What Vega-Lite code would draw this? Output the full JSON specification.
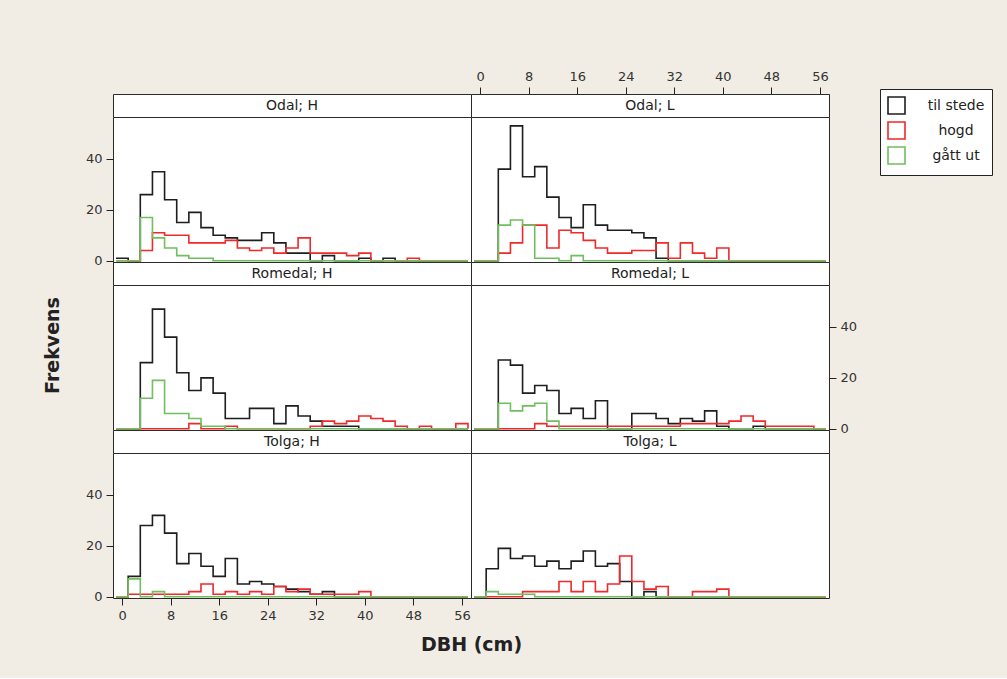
{
  "$schema": "https://vega.github.io/schema/vega-lite/v6.json",
  "padding": {"left": 42, "top": 69, "right": 15, "bottom": 23},
  "background": "#f1ede4",
  "config": {
    "font": "DejaVu Sans",
    "view": {"stroke": "#2b2b2b", "strokeWidth": 1, "fill": "white"},
    "axis": {"labelFont": "DejaVu Sans", "labelFontSize": 13, "labelColor": "#333333", "tickColor": "#222222", "tickSize": 7, "tickWidth": 1, "labelPadding": 4, "domain": false, "grid": false, "labelFlush": false, "titleFont": "DejaVu Sans", "titleFontSize": 19, "titleFontWeight": "bold", "titleColor": "#222222"},
    "legend": {"orient": "none", "legendX": 767, "legendY": -5, "symbolType": "square", "symbolSize": 289, "symbolStrokeWidth": 1.6, "symbolFillColor": "transparent", "labelFont": "DejaVu Sans", "labelFontSize": 14, "labelColor": "#222222", "labelAlign": "center", "labelOffset": 50, "rowPadding": 0, "padding": 7, "fillColor": "white", "strokeColor": "#222222", "labelLimit": 200},
    "line": {"interpolate": "step-after", "strokeWidth": 1.6, "strokeJoin": "miter", "strokeCap": "butt"}
  },
  "datasets": {
    "odalH": [
      {"dbh": -1, "til stede": 1, "hogd": 0, "gått ut": 0},
      {"dbh": 1, "til stede": 0, "hogd": 0, "gått ut": 0},
      {"dbh": 3, "til stede": 26, "hogd": 4, "gått ut": 17},
      {"dbh": 5, "til stede": 35, "hogd": 11, "gått ut": 9},
      {"dbh": 7, "til stede": 24, "hogd": 10, "gått ut": 5},
      {"dbh": 9, "til stede": 15, "hogd": 10, "gått ut": 2},
      {"dbh": 11, "til stede": 19, "hogd": 7, "gått ut": 1},
      {"dbh": 13, "til stede": 13, "hogd": 7, "gått ut": 1},
      {"dbh": 15, "til stede": 10, "hogd": 7, "gått ut": 0},
      {"dbh": 17, "til stede": 9, "hogd": 8, "gått ut": 0},
      {"dbh": 19, "til stede": 8, "hogd": 5, "gått ut": 0},
      {"dbh": 21, "til stede": 8, "hogd": 4, "gått ut": 0},
      {"dbh": 23, "til stede": 11, "hogd": 5, "gått ut": 0},
      {"dbh": 25, "til stede": 7, "hogd": 3, "gått ut": 0},
      {"dbh": 27, "til stede": 3, "hogd": 5, "gått ut": 0},
      {"dbh": 29, "til stede": 3, "hogd": 9, "gått ut": 0},
      {"dbh": 31, "til stede": 0, "hogd": 3, "gått ut": 0},
      {"dbh": 33, "til stede": 2, "hogd": 3, "gått ut": 0},
      {"dbh": 35, "til stede": 0, "hogd": 3, "gått ut": 0},
      {"dbh": 37, "til stede": 0, "hogd": 2, "gått ut": 0},
      {"dbh": 39, "til stede": 1, "hogd": 3, "gått ut": 0},
      {"dbh": 41, "til stede": 0, "hogd": 0, "gått ut": 0},
      {"dbh": 43, "til stede": 1, "hogd": 0, "gått ut": 0},
      {"dbh": 45, "til stede": 0, "hogd": 0, "gått ut": 0},
      {"dbh": 47, "til stede": 0, "hogd": 1, "gått ut": 0},
      {"dbh": 49, "til stede": 0, "hogd": 0, "gått ut": 0},
      {"dbh": 51, "til stede": 0, "hogd": 0, "gått ut": 0},
      {"dbh": 53, "til stede": 0, "hogd": 0, "gått ut": 0},
      {"dbh": 55, "til stede": 0, "hogd": 0, "gått ut": 0},
      {"dbh": 57, "til stede": 0, "hogd": 0, "gått ut": 0}
    ],
    "odalL": [
      {"dbh": -1, "til stede": 0, "hogd": 0, "gått ut": 0},
      {"dbh": 1, "til stede": 0, "hogd": 0, "gått ut": 0},
      {"dbh": 3, "til stede": 36, "hogd": 3, "gått ut": 14},
      {"dbh": 5, "til stede": 53, "hogd": 7, "gått ut": 16},
      {"dbh": 7, "til stede": 33, "hogd": 14, "gått ut": 14},
      {"dbh": 9, "til stede": 37, "hogd": 14, "gått ut": 1},
      {"dbh": 11, "til stede": 25, "hogd": 5, "gått ut": 1},
      {"dbh": 13, "til stede": 17, "hogd": 12, "gått ut": 0},
      {"dbh": 15, "til stede": 13, "hogd": 11, "gått ut": 2},
      {"dbh": 17, "til stede": 22, "hogd": 8, "gått ut": 0},
      {"dbh": 19, "til stede": 14, "hogd": 5, "gått ut": 0},
      {"dbh": 21, "til stede": 12, "hogd": 3, "gått ut": 0},
      {"dbh": 23, "til stede": 12, "hogd": 3, "gått ut": 0},
      {"dbh": 25, "til stede": 11, "hogd": 4, "gått ut": 0},
      {"dbh": 27, "til stede": 9, "hogd": 4, "gått ut": 0},
      {"dbh": 29, "til stede": 1, "hogd": 7, "gått ut": 0},
      {"dbh": 31, "til stede": 0, "hogd": 1, "gått ut": 0},
      {"dbh": 33, "til stede": 0, "hogd": 7, "gått ut": 0},
      {"dbh": 35, "til stede": 0, "hogd": 3, "gått ut": 0},
      {"dbh": 37, "til stede": 0, "hogd": 1, "gått ut": 0},
      {"dbh": 39, "til stede": 0, "hogd": 5, "gått ut": 0},
      {"dbh": 41, "til stede": 0, "hogd": 0, "gått ut": 0},
      {"dbh": 43, "til stede": 0, "hogd": 0, "gått ut": 0},
      {"dbh": 45, "til stede": 0, "hogd": 0, "gått ut": 0},
      {"dbh": 47, "til stede": 0, "hogd": 0, "gått ut": 0},
      {"dbh": 49, "til stede": 0, "hogd": 0, "gått ut": 0},
      {"dbh": 51, "til stede": 0, "hogd": 0, "gått ut": 0},
      {"dbh": 53, "til stede": 0, "hogd": 0, "gått ut": 0},
      {"dbh": 55, "til stede": 0, "hogd": 0, "gått ut": 0},
      {"dbh": 57, "til stede": 0, "hogd": 0, "gått ut": 0}
    ],
    "romedalH": [
      {"dbh": -1, "til stede": 0, "hogd": 0, "gått ut": 0},
      {"dbh": 1, "til stede": 0, "hogd": 0, "gått ut": 0},
      {"dbh": 3, "til stede": 26, "hogd": 0, "gått ut": 12},
      {"dbh": 5, "til stede": 47, "hogd": 0, "gått ut": 19},
      {"dbh": 7, "til stede": 36, "hogd": 0, "gått ut": 6},
      {"dbh": 9, "til stede": 22, "hogd": 0, "gått ut": 6},
      {"dbh": 11, "til stede": 15, "hogd": 2, "gått ut": 4},
      {"dbh": 13, "til stede": 20, "hogd": 0, "gått ut": 1},
      {"dbh": 15, "til stede": 14, "hogd": 0, "gått ut": 1},
      {"dbh": 17, "til stede": 4, "hogd": 1, "gått ut": 0},
      {"dbh": 19, "til stede": 4, "hogd": 0, "gått ut": 0},
      {"dbh": 21, "til stede": 8, "hogd": 0, "gått ut": 0},
      {"dbh": 23, "til stede": 8, "hogd": 0, "gått ut": 0},
      {"dbh": 25, "til stede": 2, "hogd": 0, "gått ut": 0},
      {"dbh": 27, "til stede": 9, "hogd": 0, "gått ut": 0},
      {"dbh": 29, "til stede": 5, "hogd": 0, "gått ut": 0},
      {"dbh": 31, "til stede": 3, "hogd": 1, "gått ut": 0},
      {"dbh": 33, "til stede": 1, "hogd": 3, "gått ut": 0},
      {"dbh": 35, "til stede": 1, "hogd": 2, "gått ut": 0},
      {"dbh": 37, "til stede": 1, "hogd": 3, "gått ut": 0},
      {"dbh": 39, "til stede": 0, "hogd": 5, "gått ut": 0},
      {"dbh": 41, "til stede": 0, "hogd": 4, "gått ut": 0},
      {"dbh": 43, "til stede": 0, "hogd": 3, "gått ut": 0},
      {"dbh": 45, "til stede": 0, "hogd": 1, "gått ut": 0},
      {"dbh": 47, "til stede": 0, "hogd": 0, "gått ut": 0},
      {"dbh": 49, "til stede": 0, "hogd": 1, "gått ut": 0},
      {"dbh": 51, "til stede": 0, "hogd": 0, "gått ut": 0},
      {"dbh": 53, "til stede": 0, "hogd": 0, "gått ut": 0},
      {"dbh": 55, "til stede": 0, "hogd": 2, "gått ut": 0},
      {"dbh": 57, "til stede": 0, "hogd": 0, "gått ut": 0}
    ],
    "romedalL": [
      {"dbh": -1, "til stede": 0, "hogd": 0, "gått ut": 0},
      {"dbh": 1, "til stede": 0, "hogd": 0, "gått ut": 0},
      {"dbh": 3, "til stede": 27, "hogd": 0, "gått ut": 10},
      {"dbh": 5, "til stede": 25, "hogd": 0, "gått ut": 7},
      {"dbh": 7, "til stede": 14, "hogd": 0, "gått ut": 9},
      {"dbh": 9, "til stede": 17, "hogd": 2, "gått ut": 10},
      {"dbh": 11, "til stede": 15, "hogd": 1, "gått ut": 3},
      {"dbh": 13, "til stede": 6, "hogd": 1, "gått ut": 0},
      {"dbh": 15, "til stede": 8, "hogd": 1, "gått ut": 0},
      {"dbh": 17, "til stede": 4, "hogd": 1, "gått ut": 0},
      {"dbh": 19, "til stede": 11, "hogd": 1, "gått ut": 0},
      {"dbh": 21, "til stede": 0, "hogd": 1, "gått ut": 0},
      {"dbh": 23, "til stede": 0, "hogd": 1, "gått ut": 0},
      {"dbh": 25, "til stede": 6, "hogd": 1, "gått ut": 0},
      {"dbh": 27, "til stede": 6, "hogd": 1, "gått ut": 0},
      {"dbh": 29, "til stede": 4, "hogd": 1, "gått ut": 0},
      {"dbh": 31, "til stede": 2, "hogd": 1, "gått ut": 0},
      {"dbh": 33, "til stede": 4, "hogd": 2, "gått ut": 0},
      {"dbh": 35, "til stede": 3, "hogd": 2, "gått ut": 0},
      {"dbh": 37, "til stede": 7, "hogd": 2, "gått ut": 0},
      {"dbh": 39, "til stede": 1, "hogd": 2, "gått ut": 0},
      {"dbh": 41, "til stede": 0, "hogd": 3, "gått ut": 0},
      {"dbh": 43, "til stede": 0, "hogd": 5, "gått ut": 0},
      {"dbh": 45, "til stede": 1, "hogd": 3, "gått ut": 0},
      {"dbh": 47, "til stede": 0, "hogd": 1, "gått ut": 0},
      {"dbh": 49, "til stede": 0, "hogd": 1, "gått ut": 0},
      {"dbh": 51, "til stede": 0, "hogd": 1, "gått ut": 0},
      {"dbh": 53, "til stede": 0, "hogd": 1, "gått ut": 0},
      {"dbh": 55, "til stede": 0, "hogd": 0, "gått ut": 0},
      {"dbh": 57, "til stede": 0, "hogd": 0, "gått ut": 0}
    ],
    "tolgaH": [
      {"dbh": -1, "til stede": 0, "hogd": 0, "gått ut": 0},
      {"dbh": 1, "til stede": 8, "hogd": 1, "gått ut": 7},
      {"dbh": 3, "til stede": 28, "hogd": 1, "gått ut": 0},
      {"dbh": 5, "til stede": 32, "hogd": 1, "gått ut": 2},
      {"dbh": 7, "til stede": 25, "hogd": 1, "gått ut": 0},
      {"dbh": 9, "til stede": 13, "hogd": 1, "gått ut": 0},
      {"dbh": 11, "til stede": 17, "hogd": 2, "gått ut": 0},
      {"dbh": 13, "til stede": 12, "hogd": 5, "gått ut": 0},
      {"dbh": 15, "til stede": 8, "hogd": 1, "gått ut": 0},
      {"dbh": 17, "til stede": 15, "hogd": 2, "gått ut": 0},
      {"dbh": 19, "til stede": 5, "hogd": 1, "gått ut": 0},
      {"dbh": 21, "til stede": 6, "hogd": 2, "gått ut": 0},
      {"dbh": 23, "til stede": 5, "hogd": 1, "gått ut": 0},
      {"dbh": 25, "til stede": 4, "hogd": 4, "gått ut": 0},
      {"dbh": 27, "til stede": 3, "hogd": 2, "gått ut": 0},
      {"dbh": 29, "til stede": 2, "hogd": 3, "gått ut": 0},
      {"dbh": 31, "til stede": 1, "hogd": 1, "gått ut": 0},
      {"dbh": 33, "til stede": 2, "hogd": 1, "gått ut": 0},
      {"dbh": 35, "til stede": 0, "hogd": 1, "gått ut": 0},
      {"dbh": 37, "til stede": 0, "hogd": 1, "gått ut": 0},
      {"dbh": 39, "til stede": 0, "hogd": 2, "gått ut": 0},
      {"dbh": 41, "til stede": 0, "hogd": 0, "gått ut": 0},
      {"dbh": 43, "til stede": 0, "hogd": 0, "gått ut": 0},
      {"dbh": 45, "til stede": 0, "hogd": 0, "gått ut": 0},
      {"dbh": 47, "til stede": 0, "hogd": 0, "gått ut": 0},
      {"dbh": 49, "til stede": 0, "hogd": 0, "gått ut": 0},
      {"dbh": 51, "til stede": 0, "hogd": 0, "gått ut": 0},
      {"dbh": 53, "til stede": 0, "hogd": 0, "gått ut": 0},
      {"dbh": 55, "til stede": 0, "hogd": 0, "gått ut": 0},
      {"dbh": 57, "til stede": 0, "hogd": 0, "gått ut": 0}
    ],
    "tolgaL": [
      {"dbh": -1, "til stede": 0, "hogd": 0, "gått ut": 0},
      {"dbh": 1, "til stede": 11, "hogd": 0, "gått ut": 2},
      {"dbh": 3, "til stede": 19, "hogd": 0, "gått ut": 1},
      {"dbh": 5, "til stede": 15, "hogd": 0, "gått ut": 1},
      {"dbh": 7, "til stede": 16, "hogd": 2, "gått ut": 1},
      {"dbh": 9, "til stede": 12, "hogd": 2, "gått ut": 0},
      {"dbh": 11, "til stede": 14, "hogd": 2, "gått ut": 0},
      {"dbh": 13, "til stede": 11, "hogd": 6, "gått ut": 0},
      {"dbh": 15, "til stede": 14, "hogd": 2, "gått ut": 0},
      {"dbh": 17, "til stede": 18, "hogd": 6, "gått ut": 0},
      {"dbh": 19, "til stede": 12, "hogd": 2, "gått ut": 0},
      {"dbh": 21, "til stede": 13, "hogd": 5, "gått ut": 0},
      {"dbh": 23, "til stede": 6, "hogd": 16, "gått ut": 0},
      {"dbh": 25, "til stede": 0, "hogd": 6, "gått ut": 0},
      {"dbh": 27, "til stede": 2, "hogd": 3, "gått ut": 0},
      {"dbh": 29, "til stede": 0, "hogd": 4, "gått ut": 0},
      {"dbh": 31, "til stede": 0, "hogd": 0, "gått ut": 0},
      {"dbh": 33, "til stede": 0, "hogd": 0, "gått ut": 0},
      {"dbh": 35, "til stede": 0, "hogd": 2, "gått ut": 0},
      {"dbh": 37, "til stede": 0, "hogd": 2, "gått ut": 0},
      {"dbh": 39, "til stede": 0, "hogd": 3, "gått ut": 0},
      {"dbh": 41, "til stede": 0, "hogd": 0, "gått ut": 0},
      {"dbh": 43, "til stede": 0, "hogd": 0, "gått ut": 0},
      {"dbh": 45, "til stede": 0, "hogd": 0, "gått ut": 0},
      {"dbh": 47, "til stede": 0, "hogd": 0, "gått ut": 0},
      {"dbh": 49, "til stede": 0, "hogd": 0, "gått ut": 0},
      {"dbh": 51, "til stede": 0, "hogd": 0, "gått ut": 0},
      {"dbh": 53, "til stede": 0, "hogd": 0, "gått ut": 0},
      {"dbh": 55, "til stede": 0, "hogd": 0, "gått ut": 0},
      {"dbh": 57, "til stede": 0, "hogd": 0, "gått ut": 0}
    ]
  },
  "columns": 2,
  "spacing": 0,
  "bounds": "flush",
  "align": "each",
  "resolve": {"scale": {"color": "shared"}, "legend": {"color": "shared"}},
  "concat": [
    {"width": 358, "height": 23, "view": {"stroke": "#2b2b2b", "fill": "white"}, "data": {"values": [{"panel": "Odal; H"}]}, "mark": {"type": "text", "fontSize": 14, "color": "#222222"}, "encoding": {"text": {"field": "panel"}}},
    {"width": 358, "height": 23, "view": {"stroke": "#2b2b2b", "fill": "white"}, "data": {"values": [{"panel": "Odal; L"}]}, "mark": {"type": "text", "fontSize": 14, "color": "#222222"}, "encoding": {"text": {"field": "panel"}}},
    {
      "width": 358, "height": 145,
      "data": {"name": "odalH"},
      "transform": [{"fold": ["til stede", "hogd", "gått ut"], "as": ["serie", "n"]}],
      "encoding": {
        "x": {"field": "dbh", "type": "quantitative", "scale": {"domain": [-1.5, 57.5], "nice": false, "zero": false}, "axis": null},
        "y": {"field": "n", "type": "quantitative", "scale": {"domain": [-0.5, 56.5], "nice": false, "zero": false}, "axis": {"orient": "left", "values": [0, 20, 40], "title": null}},
        "color": {"field": "serie", "type": "nominal", "title": null, "scale": {"domain": ["til stede", "hogd", "gått ut"], "range": ["#1e1e1e", "#ee2a2a", "#6fbf5f"]}}
      },
      "layer": [
        {"transform": [{"filter": "datum.serie === 'til stede'"}], "mark": "line"},
        {"transform": [{"filter": "datum.serie === 'hogd'"}], "mark": "line"},
        {"transform": [{"filter": "datum.serie === 'gått ut'"}], "mark": "line"}
      ]
    },
    {
      "width": 358, "height": 145,
      "data": {"name": "odalL"},
      "transform": [{"fold": ["til stede", "hogd", "gått ut"], "as": ["serie", "n"]}],
      "encoding": {
        "x": {"field": "dbh", "type": "quantitative", "scale": {"domain": [-1.5, 57.5], "nice": false, "zero": false}, "axis": {"orient": "top", "offset": 23, "values": [0, 8, 16, 24, 32, 40, 48, 56], "title": null}},
        "y": {"field": "n", "type": "quantitative", "scale": {"domain": [-0.5, 56.5], "nice": false, "zero": false}, "axis": null},
        "color": {"field": "serie", "type": "nominal", "title": null, "scale": {"domain": ["til stede", "hogd", "gått ut"], "range": ["#1e1e1e", "#ee2a2a", "#6fbf5f"]}}
      },
      "layer": [
        {"transform": [{"filter": "datum.serie === 'til stede'"}], "mark": "line"},
        {"transform": [{"filter": "datum.serie === 'hogd'"}], "mark": "line"},
        {"transform": [{"filter": "datum.serie === 'gått ut'"}], "mark": "line"}
      ]
    },
    {"width": 358, "height": 23, "view": {"stroke": "#2b2b2b", "fill": "white"}, "data": {"values": [{"panel": "Romedal; H"}]}, "mark": {"type": "text", "fontSize": 14, "color": "#222222"}, "encoding": {"text": {"field": "panel"}}},
    {"width": 358, "height": 23, "view": {"stroke": "#2b2b2b", "fill": "white"}, "data": {"values": [{"panel": "Romedal; L"}]}, "mark": {"type": "text", "fontSize": 14, "color": "#222222"}, "encoding": {"text": {"field": "panel"}}},
    {
      "width": 358, "height": 145,
      "data": {"name": "romedalH"},
      "transform": [{"fold": ["til stede", "hogd", "gått ut"], "as": ["serie", "n"]}],
      "encoding": {
        "x": {"field": "dbh", "type": "quantitative", "scale": {"domain": [-1.5, 57.5], "nice": false, "zero": false}, "axis": null},
        "y": {"field": "n", "type": "quantitative", "scale": {"domain": [-0.5, 56.5], "nice": false, "zero": false}, "axis": {"orient": "left", "labels": false, "ticks": false, "domain": false, "title": "Frekvens", "titleY": 60, "titlePadding": 51}},
        "color": {"field": "serie", "type": "nominal", "title": null, "scale": {"domain": ["til stede", "hogd", "gått ut"], "range": ["#1e1e1e", "#ee2a2a", "#6fbf5f"]}}
      },
      "layer": [
        {"transform": [{"filter": "datum.serie === 'til stede'"}], "mark": "line"},
        {"transform": [{"filter": "datum.serie === 'hogd'"}], "mark": "line"},
        {"transform": [{"filter": "datum.serie === 'gått ut'"}], "mark": "line"}
      ]
    },
    {
      "width": 358, "height": 145,
      "data": {"name": "romedalL"},
      "transform": [{"fold": ["til stede", "hogd", "gått ut"], "as": ["serie", "n"]}],
      "encoding": {
        "x": {"field": "dbh", "type": "quantitative", "scale": {"domain": [-1.5, 57.5], "nice": false, "zero": false}, "axis": null},
        "y": {"field": "n", "type": "quantitative", "scale": {"domain": [-0.5, 56.5], "nice": false, "zero": false}, "axis": {"orient": "right", "values": [0, 20, 40], "title": null}},
        "color": {"field": "serie", "type": "nominal", "title": null, "scale": {"domain": ["til stede", "hogd", "gått ut"], "range": ["#1e1e1e", "#ee2a2a", "#6fbf5f"]}}
      },
      "layer": [
        {"transform": [{"filter": "datum.serie === 'til stede'"}], "mark": "line"},
        {"transform": [{"filter": "datum.serie === 'hogd'"}], "mark": "line"},
        {"transform": [{"filter": "datum.serie === 'gått ut'"}], "mark": "line"}
      ]
    },
    {"width": 358, "height": 23, "view": {"stroke": "#2b2b2b", "fill": "white"}, "data": {"values": [{"panel": "Tolga; H"}]}, "mark": {"type": "text", "fontSize": 14, "color": "#222222"}, "encoding": {"text": {"field": "panel"}}},
    {"width": 358, "height": 23, "view": {"stroke": "#2b2b2b", "fill": "white"}, "data": {"values": [{"panel": "Tolga; L"}]}, "mark": {"type": "text", "fontSize": 14, "color": "#222222"}, "encoding": {"text": {"field": "panel"}}},
    {
      "width": 358, "height": 145,
      "data": {"name": "tolgaH"},
      "transform": [{"fold": ["til stede", "hogd", "gått ut"], "as": ["serie", "n"]}],
      "encoding": {
        "x": {"field": "dbh", "type": "quantitative", "scale": {"domain": [-1.5, 57.5], "nice": false, "zero": false}, "axis": {"orient": "bottom", "values": [0, 8, 16, 24, 32, 40, 48, 56], "title": "DBH (cm)", "titleX": 358, "titlePadding": 13}},
        "y": {"field": "n", "type": "quantitative", "scale": {"domain": [-0.5, 56.5], "nice": false, "zero": false}, "axis": {"orient": "left", "values": [0, 20, 40], "title": null}},
        "color": {"field": "serie", "type": "nominal", "title": null, "scale": {"domain": ["til stede", "hogd", "gått ut"], "range": ["#1e1e1e", "#ee2a2a", "#6fbf5f"]}}
      },
      "layer": [
        {"transform": [{"filter": "datum.serie === 'til stede'"}], "mark": "line"},
        {"transform": [{"filter": "datum.serie === 'hogd'"}], "mark": "line"},
        {"transform": [{"filter": "datum.serie === 'gått ut'"}], "mark": "line"}
      ]
    },
    {
      "width": 358, "height": 145,
      "data": {"name": "tolgaL"},
      "transform": [{"fold": ["til stede", "hogd", "gått ut"], "as": ["serie", "n"]}],
      "encoding": {
        "x": {"field": "dbh", "type": "quantitative", "scale": {"domain": [-1.5, 57.5], "nice": false, "zero": false}, "axis": null},
        "y": {"field": "n", "type": "quantitative", "scale": {"domain": [-0.5, 56.5], "nice": false, "zero": false}, "axis": null},
        "color": {"field": "serie", "type": "nominal", "title": null, "scale": {"domain": ["til stede", "hogd", "gått ut"], "range": ["#1e1e1e", "#ee2a2a", "#6fbf5f"]}}
      },
      "layer": [
        {"transform": [{"filter": "datum.serie === 'til stede'"}], "mark": "line"},
        {"transform": [{"filter": "datum.serie === 'hogd'"}], "mark": "line"},
        {"transform": [{"filter": "datum.serie === 'gått ut'"}], "mark": "line"}
      ]
    }
  ]
}
